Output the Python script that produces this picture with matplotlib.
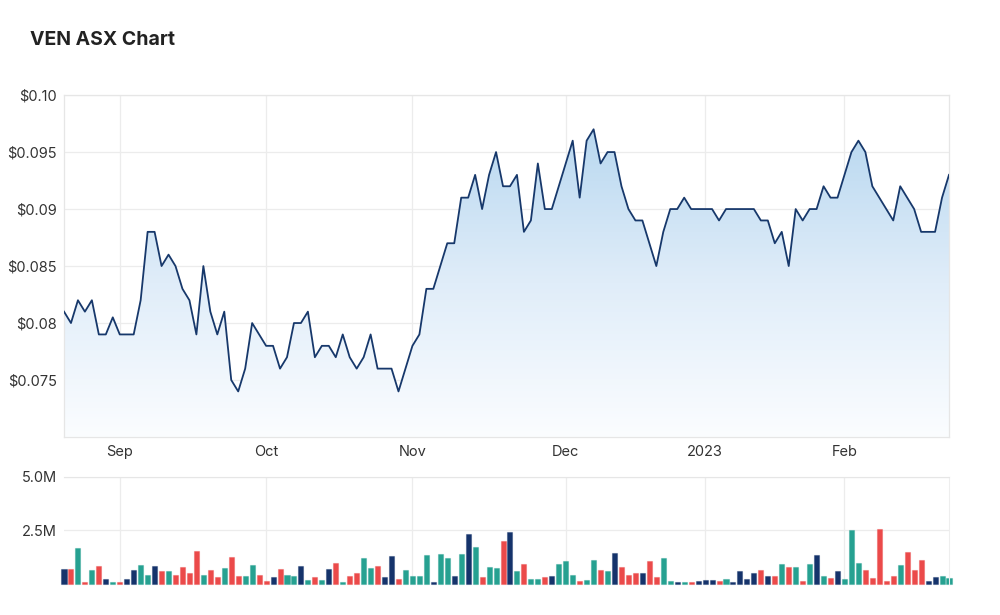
import numpy as np
import pandas as pd
import matplotlib
matplotlib.use("Agg")
import matplotlib.pyplot as plt
from matplotlib.colors import LinearSegmentedColormap
from matplotlib.patches import Polygon

plt.rcParams['font.family'] = ['Inter', 'DejaVu Sans']

title = "VEN ASX Chart"
start_date = "2022-08-22"
end_date = "2023-02-22"
holidays = ["2022-09-22", "2022-12-26", "2022-12-27", "2023-01-02", "2023-01-26"]

prices = [
    0.081, 0.080, 0.082, 0.081, 0.082, 0.079, 0.079, 0.0805, 0.079, 0.079,
    0.079, 0.082, 0.088, 0.088, 0.085, 0.086, 0.085, 0.083, 0.082, 0.079,
    0.085, 0.081, 0.079, 0.081, 0.075, 0.074, 0.076, 0.080, 0.079, 0.078,
    0.078, 0.076, 0.077, 0.080, 0.080, 0.081, 0.077, 0.078, 0.078, 0.077,
    0.079, 0.077, 0.076, 0.077, 0.079, 0.076, 0.076, 0.076, 0.074, 0.076,
    0.078, 0.079, 0.083, 0.083, 0.085, 0.087, 0.087, 0.091, 0.091, 0.093,
    0.090, 0.093, 0.095, 0.092, 0.092, 0.093, 0.088, 0.089, 0.094, 0.090,
    0.090, 0.092, 0.094, 0.096, 0.091, 0.096, 0.097, 0.094, 0.095, 0.095,
    0.092, 0.090, 0.089, 0.089, 0.087, 0.085, 0.088, 0.090, 0.090, 0.091,
    0.090, 0.090, 0.090, 0.090, 0.089, 0.090, 0.090, 0.090, 0.090, 0.090,
    0.089, 0.089, 0.087, 0.088, 0.085, 0.090, 0.089, 0.090, 0.090, 0.092,
    0.091, 0.091, 0.093, 0.095, 0.096, 0.095, 0.092, 0.091, 0.090, 0.089,
    0.092, 0.091, 0.090, 0.088, 0.088, 0.088, 0.091, 0.093,
]

volumes_m = [
    0.69, 0.69, 1.70, 0.09, 0.64, 0.84, 0.23, 0.09, 0.09, 0.23,
    0.64, 0.89, 0.44, 0.84, 0.59, 0.59, 0.44, 0.80, 0.50, 1.55,
    0.44, 0.64, 0.34, 0.73, 1.25, 0.39, 0.39, 0.89, 0.44, 0.14,
    0.34, 0.69, 0.44, 0.39, 0.84, 0.19, 0.34, 0.19, 0.69, 1.00,
    0.09, 0.39, 0.50, 1.20, 0.73, 0.84, 0.34, 1.30, 0.23, 0.64,
    0.39, 0.39, 1.34, 0.09, 1.41, 1.20, 0.39, 1.41, 2.34, 1.75,
    0.34, 0.80, 0.73, 2.00, 2.41, 0.59, 0.95, 0.23, 0.23, 0.34,
    0.39, 0.95, 1.09, 0.44, 0.14, 0.19, 1.14, 0.64, 0.59, 1.45,
    0.80, 0.44, 0.50, 0.50, 1.09, 0.34, 1.20, 0.14, 0.09, 0.09,
    0.09, 0.14, 0.19, 0.19, 0.14, 0.23, 0.09, 0.59, 0.23, 0.50,
    0.64, 0.39, 0.39, 0.95, 0.80, 0.80, 0.14, 0.95, 1.34, 0.39,
    0.30, 0.59, 0.23, 2.50, 1.00, 0.64, 0.30, 2.55, 0.14, 0.39,
    0.89, 1.50, 0.64, 1.14, 0.14, 0.34, 0.39, 0.30,
]

price_ticks = [0.075, 0.08, 0.085, 0.09, 0.095, 0.10]
price_tick_labels = ["$0.075", "$0.08", "$0.085", "$0.09", "$0.095", "$0.10"]
vol_ticks = [2.5, 5.0]
vol_tick_labels = ["2.5M", "5.0M"]
month_labels = ["Sep", "Oct", "Nov", "Dec", "2023", "Feb"]

# trading days
dates = pd.bdate_range(start_date, end_date)
dates = dates[~dates.isin(pd.to_datetime(holidays))]
n = len(prices)
dates = dates[:n]
x = np.arange(n)
month_idx = [i for i in range(1, n) if dates[i].month != dates[i - 1].month]

# colours
LINE = "#17386b"
UP = "#26a191"
DOWN = "#eb4a4a"
FLAT = "#15336b"
GRID = "#ececec"
TXT = "#333333"

p = np.array(prices)
diff = np.round(np.diff(p, prepend=p[0]), 6)
bar_colors = [UP if d > 0 else DOWN if d < 0 else FLAT for d in diff]

fig = plt.figure(figsize=(10, 6.15), dpi=100)
fig.text(0.030, 0.935, title, fontsize=14, fontweight='bold', color="#222222", ha='left', va='center')

ax = fig.add_axes([0.064, 0.2894, 0.885, 0.556])
ymin, ymax = 0.07, 0.10

# gradient fill under the line
cmap = LinearSegmentedColormap.from_list("g", ["#fbfdff", "#e0edf9", "#b9d8f0"])
grad = np.linspace(0, 1, 256).reshape(-1, 1)
top_val = p.max()
im = ax.imshow(grad, extent=[0, n - 1, ymin, top_val], origin='lower', aspect='auto',
               cmap=cmap, zorder=1)
verts = [(0, ymin)] + list(zip(x, p)) + [(n - 1, ymin)]
poly = Polygon(verts, closed=True, facecolor='none', edgecolor='none')
ax.add_patch(poly)
im.set_clip_path(poly)
ax.set_ylim(ymin, ymax)
ax.set_xlim(0, n - 1)

ax.plot(x, p, color=LINE, lw=1.3, zorder=3)

ax.set_yticks(price_ticks)
ax.set_yticklabels(price_tick_labels)
ax.set_xticks(month_idx)
ax.set_xticklabels(month_labels)
ax.grid(True, color=GRID, lw=0.9, zorder=0)
ax.set_axisbelow(True)
ax.tick_params(length=0, labelsize=10.5, colors=TXT, pad=6)
ax.tick_params(axis='y', pad=5)
for s in ax.spines.values():
    s.set_color("#e6e6e6")
    s.set_linewidth(0.9)

# volume
axv = fig.add_axes([0.064, 0.0504, 0.885, 0.174])
axv.bar(x, volumes_m, width=0.72, color=bar_colors, edgecolor=[c + "66" for c in bar_colors],
        linewidth=0.8, zorder=2, clip_on=False)
axv.set_xlim(0, n - 1)
axv.set_ylim(0, 5.0)
axv.set_yticks(vol_ticks)
axv.set_yticklabels(vol_tick_labels)
axv.set_xticks(month_idx)
axv.set_xticklabels([])
axv.grid(True, color=GRID, lw=0.9, zorder=0)
axv.set_axisbelow(True)
axv.tick_params(length=0, labelsize=10.5, colors=TXT, pad=5)
for k, s in axv.spines.items():
    s.set_visible(False)
axv.spines['top'].set_visible(True)
axv.spines['top'].set_color("#e6e6e6")
axv.spines['right'].set_visible(True)
axv.spines['right'].set_color("#eeeeee")

fig.savefig("out.png", dpi=100, facecolor='white')
